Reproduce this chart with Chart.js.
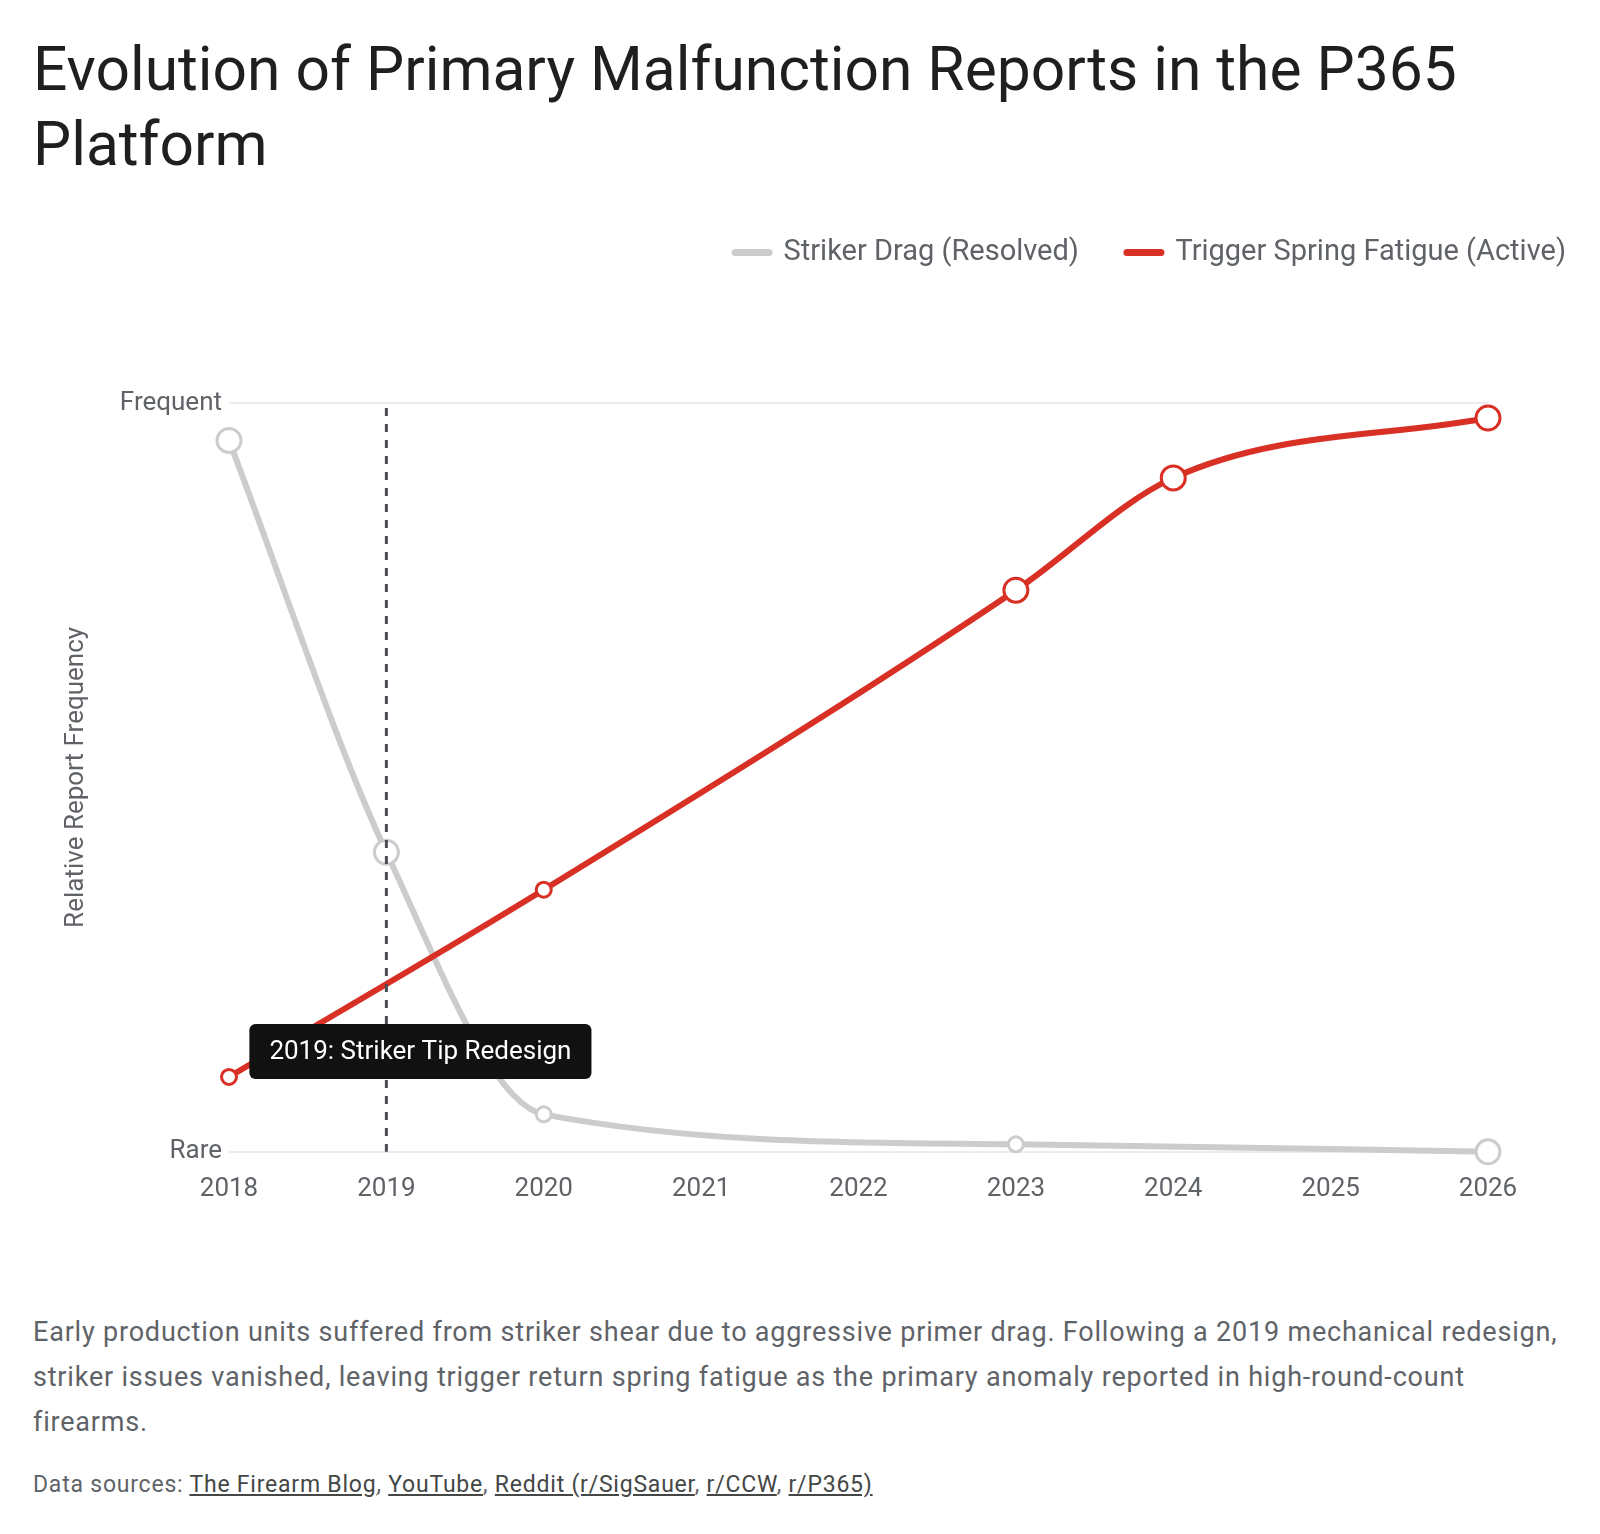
<!DOCTYPE html>
<html>
<head>
<meta charset="utf-8">
<script src="https://cdn.jsdelivr.net/npm/chart.js@4.4.1/dist/chart.umd.min.js"></script>
<style>
  html, body { margin: 0; padding: 0; background: #fff; }
  body { width: 1600px; height: 1534px; position: relative; font-family: Roboto, "Noto Sans", sans-serif; }
  h1 {
    position: absolute; left: 33px; top: 32px; margin: 0;
    font-size: 60.5px; line-height: 75px; font-weight: 400; color: #1f1f1f;
  }
  #chartWrap { position: absolute; left: 33px; top: 190px; width: 1535px; height: 1029px; }
  #desc {
    position: absolute; left: 33px; top: 1310px; margin: 0; white-space: nowrap;
    font-size: 27px; line-height: 45px; color: #5f6368; letter-spacing: 0.8px;
  }
  #sources {
    position: absolute; left: 33px; top: 1470px; margin: 0; white-space: nowrap;
    font-size: 23px; line-height: 30px; color: #5f6368; letter-spacing: 0.78px;
  }
  #sources a { color: #444746; text-decoration: underline; }
</style>
</head>
<body>
<h1>Evolution of Primary Malfunction Reports in the P365<br>Platform</h1>
<div id="chartWrap"><canvas id="chart"></canvas></div>
<p id="desc">Early production units suffered from striker shear due to aggressive primer drag. Following a 2019 mechanical redesign,<br>striker issues vanished, leaving trigger return spring fatigue as the primary anomaly reported in high-round-count<br>firearms.</p>
<p id="sources">Data sources: <a>The Firearm Blog</a>, <a>YouTube</a>, <a>Reddit (r/SigSauer</a>, <a>r/CCW</a>, <a>r/P365)</a></p>

<script>
// ── Veriler ─────────────────────────────────────────
const seriesNames   = ['Striker Drag (Resolved)', 'Trigger Spring Fatigue (Active)'];
const strikerYears  = [2018, 2019, 2020, 2023, 2026];
const strikerValues = [95, 40, 5, 1, 0];
const triggerYears  = [2018, 2020, 2023, 2024, 2026];
const triggerValues = [10, 35, 75, 90, 98];
const yTickLabels   = { 0: 'Rare', 100: 'Frequent' };
const eventYear     = 2019;
const eventLabel    = '2019: Striker Tip Redesign';

// nokta boyutları (stil)
const strikerRadius = [12, 12, 7.5, 7.5, 12];
const triggerRadius = [7.5, 7.5, 12, 12, 12];

const FONT = 'Roboto, "Noto Sans", sans-serif';
const COLORS = {
  striker: '#cccccc',
  trigger: '#d93025',
  text: '#5f6368',
  grid: '#ececec',
  event: '#4a4d52',
};

function toPoints(xs, ys) {
  return xs.map((x, i) => ({ x: x, y: ys[i] }));
}

// legend ile grafik arasına boşluk + legend'i sağ kenara yasla
const legendGap = {
  id: 'legendGap',
  beforeInit(chart) {
    const origFit = chart.legend.fit;
    chart.legend.fit = function () {
      origFit.bind(chart.legend)();
      this.height += 126;
    };
  },
  afterLayout(chart) {
    chart.legend.right = chart.width + 46;
  },
};

// 2019 olay çizgisi + etiket kutusu
const eventMarker = {
  id: 'eventMarker',
  afterDatasetsDraw(chart) {
    const { ctx, chartArea, scales } = chart;
    const x = scales.x.getPixelForValue(eventYear);
    ctx.save();
    ctx.strokeStyle = COLORS.event;
    ctx.lineWidth = 3;
    ctx.setLineDash([8, 8]);
    ctx.beginPath();
    ctx.moveTo(x, chartArea.top + 5);
    ctx.lineTo(x, chartArea.bottom);
    ctx.stroke();
    ctx.setLineDash([]);

    ctx.font = '26px ' + FONT;
    const tw = ctx.measureText(eventLabel).width;
    const bw = tw + 40, bh = 55;
    const bx = x - 137;
    const by = scales.y.getPixelForValue(13.4) - bh / 2;
    ctx.fillStyle = '#111111';
    ctx.beginPath();
    ctx.roundRect(bx, by, bw, bh, 6);
    ctx.fill();
    ctx.fillStyle = '#ffffff';
    ctx.textBaseline = 'middle';
    ctx.fillText(eventLabel, bx + 20, by + bh / 2 + 1);
    ctx.restore();
  },
};

new Chart(document.getElementById('chart'), {
  type: 'line',
  data: {
    datasets: [
      {
        label: seriesNames[0],
        data: toPoints(strikerYears, strikerValues),
        borderColor: COLORS.striker,
        borderWidth: 6,
        pointRadius: strikerRadius,
        pointBackgroundColor: '#ffffff',
        pointBorderColor: COLORS.striker,
        pointBorderWidth: 3,
        cubicInterpolationMode: 'monotone',
        clip: false,
        order: 2,
      },
      {
        label: seriesNames[1],
        data: toPoints(triggerYears, triggerValues),
        borderColor: COLORS.trigger,
        borderWidth: 6,
        pointRadius: triggerRadius,
        pointBackgroundColor: '#ffffff',
        pointBorderColor: COLORS.trigger,
        pointBorderWidth: 3,
        cubicInterpolationMode: 'monotone',
        clip: false,
        order: 1,
      },
    ],
  },
  options: {
    responsive: true,
    maintainAspectRatio: false,
    animation: false,
    layout: { padding: { right: 80, left: 0, top: 0, bottom: 0 } },
    plugins: {
      tooltip: { enabled: false },
      legend: {
        position: 'top',
        align: 'end',
        labels: {
          usePointStyle: true,
          pointStyleWidth: 34,
          boxHeight: 8,
          padding: 48,
          color: COLORS.text,
          font: { family: FONT, size: 29 },
          generateLabels(chart) {
            return chart.data.datasets.map((ds, i) => ({
              text: ds.label,
              fillStyle: ds.borderColor,
              strokeStyle: ds.borderColor,
              lineWidth: 7,
              lineCap: 'round',
              pointStyle: 'line',
              fontColor: COLORS.text,
              datasetIndex: i,
              hidden: false,
            }));
          },
        },
      },
    },
    scales: {
      x: {
        type: 'linear',
        min: 2018,
        max: 2026,
        grid: { display: false },
        border: { display: false },
        ticks: {
          stepSize: 1,
          color: COLORS.text,
          padding: 14,
          font: { family: FONT, size: 26 },
          callback: (v) => String(v),
        },
      },
      y: {
        min: 0,
        max: 100,
        afterFit(scale) { scale.width = 196; },
        grid: { color: COLORS.grid, lineWidth: 2, drawTicks: false },
        border: { display: false },
        ticks: {
          stepSize: 100,
          color: COLORS.text,
          padding: 7,
          font: { family: FONT, size: 26 },
          callback: (v) => yTickLabels[v] || '',
        },
        title: {
          display: true,
          text: 'Relative Report Frequency',
          color: COLORS.text,
          padding: { top: 28, bottom: 0 },
          font: { family: FONT, size: 26 },
        },
      },
    },
  },
  plugins: [legendGap, eventMarker],
});
</script>
</body>
</html>
